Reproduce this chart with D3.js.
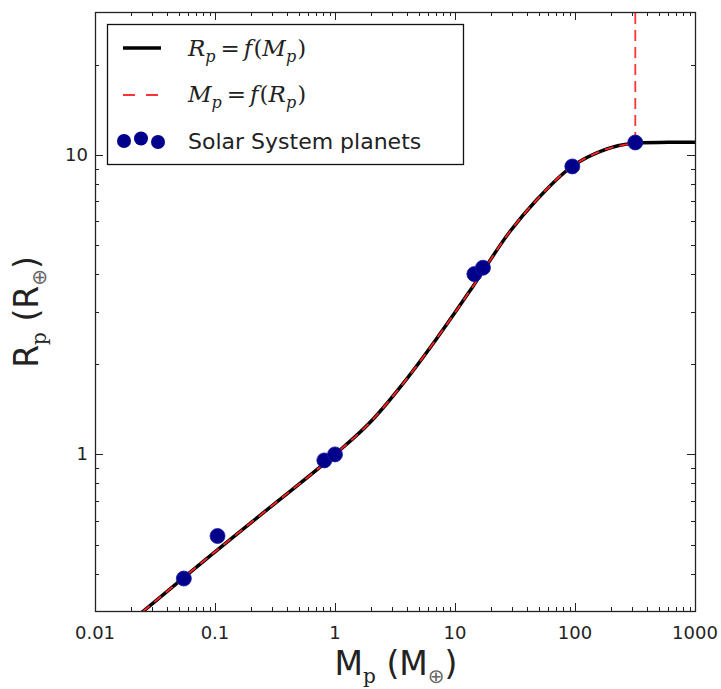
<!DOCTYPE html>
<html>
<head>
<meta charset="utf-8">
<script src="https://cdn.jsdelivr.net/npm/d3@7"></script>
<style>
  body { margin: 0; background: #fff; }
  svg { display: block; }
</style>
</head>
<body>
<svg id="chart" width="721" height="689"></svg>
<script>
// values (mass in Earth masses, radius in Earth radii)
var curveMass   = [0.02, 0.1, 0.3, 1.0, 2.0, 3.8, 7.0, 13.8, 28.7, 48, 94, 161, 316, 600, 1000];
var curveRadius = [0.277, 0.473, 0.675, 1.0, 1.29, 1.75, 2.43, 3.59, 5.55, 7.08, 9.14, 10.26, 10.94, 11.02, 11.03];

// inverse relation: follows the same curve, then goes straight up at the mass limit
var invMass   = [0.02, 0.1, 0.3, 1.0, 2.0, 3.8, 7.0, 13.8, 28.7, 48, 94, 161, 318];
var invRadius = [0.277, 0.473, 0.675, 1.0, 1.29, 1.75, 2.43, 3.59, 5.55, 7.08, 9.14, 10.26, 10.95];
var invTopMass = [318, 318];
var invTopRadius = [10.95, 30];

var planetNames  = ["Mercury", "Venus", "Earth", "Mars", "Jupiter", "Saturn", "Uranus", "Neptune"];
var planetMass   = [0.055, 0.815, 1.0, 0.105, 318, 95, 14.5, 17.1];
var planetRadius = [0.385, 0.955, 1.0, 0.534, 11.0, 9.15, 4.0, 4.2];

var xTicks = [0.01, 0.1, 1, 10, 100, 1000];
var xTickLabels = ["0.01", "0.1", "1", "10", "100", "1000"];
var yTicks = [1, 10];
var yTickLabels = ["1", "10"];

var svg = d3.select("#chart");
var pLeft = 95, pRight = 695, pTop = 12, pBottom = 611;

var x = d3.scaleLog().domain([0.01, 1000]).range([pLeft, pRight]);
var y = d3.scaleLog().domain([0.3, 30]).range([pBottom, pTop]);

svg.append("defs").append("clipPath")
    .attr("id", "plotclip")
  .append("rect")
    .attr("x", pLeft).attr("y", pTop)
    .attr("width", pRight - pLeft).attr("height", pBottom - pTop);

// minor ticks: 2..9 of every decade
function minors(domain) {
  var out = [];
  for (var e = -3; e <= 3; e++) {
    for (var k = 2; k <= 9; k++) {
      var v = k * Math.pow(10, e);
      if (v > domain[0] * 1.0001 && v < domain[1] * 0.9999) out.push(v);
    }
  }
  return out;
}
var xMinor = minors(x.domain());
var yMinor = minors(y.domain());

var majLen = 8, minLen = 4;

var ticks = svg.append("g").attr("class", "ticks")
    .attr("stroke", "#222").attr("stroke-width", 1);

function xTickLines(vals, len) {
  vals.forEach(function(v) {
    var px = Math.round(x(v)) + 0.5;
    ticks.append("line").attr("x1", px).attr("x2", px).attr("y1", pBottom).attr("y2", pBottom - len);
    ticks.append("line").attr("x1", px).attr("x2", px).attr("y1", pTop).attr("y2", pTop + len);
  });
}
function yTickLines(vals, len) {
  vals.forEach(function(v) {
    var py = Math.round(y(v)) + 0.5;
    ticks.append("line").attr("y1", py).attr("y2", py).attr("x1", pLeft).attr("x2", pLeft + len);
    ticks.append("line").attr("y1", py).attr("y2", py).attr("x1", pRight).attr("x2", pRight - len);
  });
}
xTickLines(xTicks, majLen);
xTickLines(xMinor, minLen);
yTickLines(yTicks, majLen);
yTickLines(yMinor, minLen);

// tick labels
svg.append("g").selectAll("text")
    .data(xTicks)
    .enter()
    .append("text")
      .attr("x", function(d) { return x(d); })
      .attr("y", 639)
      .attr("text-anchor", "middle")
      .attr("font-family", "DejaVu Sans")
      .attr("font-size", "18px")
      .attr("fill", "#222")
      .text(function(d, i) { return xTickLabels[i]; });

svg.append("g").selectAll("text")
    .data(yTicks)
    .enter()
    .append("text")
      .attr("x", 88)
      .attr("y", function(d) { return y(d) + 6; })
      .attr("text-anchor", "end")
      .attr("font-family", "DejaVu Sans")
      .attr("font-size", "18px")
      .attr("fill", "#222")
      .text(function(d, i) { return yTickLabels[i]; });

// curves
var plot = svg.append("g").attr("clip-path", "url(#plotclip)");

var line = d3.line()
    .x(function(d) { return x(d[0]); })
    .y(function(d) { return y(d[1]); })
    .curve(d3.curveMonotoneX);

plot.append("path")
    .datum(d3.zip(curveMass, curveRadius))
    .attr("fill", "none")
    .attr("stroke", "#000")
    .attr("stroke-width", 3.5)
    .attr("d", line);

plot.append("path")
    .datum(d3.zip(invMass, invRadius))
    .attr("fill", "none")
    .attr("stroke", "#f22")
    .attr("stroke-width", 1.8)
    .attr("stroke-dasharray", "9,6")
    .attr("d", line);

plot.append("path")
    .datum(d3.zip(invTopMass, invTopRadius))
    .attr("fill", "none")
    .attr("stroke", "#f33")
    .attr("stroke-width", 1.8)
    .attr("stroke-dasharray", "11,6")
    .attr("d", d3.line().x(function(d) { return x(d[0]); }).y(function(d) { return y(d[1]); }));

// planets
plot.append("g").selectAll("circle")
    .data(d3.zip(planetMass, planetRadius))
    .enter()
    .append("circle")
      .attr("cx", function(d) { return x(d[0]); })
      .attr("cy", function(d) { return y(d[1]); })
      .attr("r", 7.5)
      .attr("fill", "#00008b")
      .attr("stroke", "#1a1aa0")
      .attr("stroke-width", 0.8);

// frame
svg.append("rect")
    .attr("x", pLeft + 0.5).attr("y", pTop + 0.5)
    .attr("width", pRight - pLeft).attr("height", pBottom - pTop)
    .attr("fill", "none")
    .attr("stroke", "#222")
    .attr("stroke-width", 1.3);

// legend
var legend = svg.append("g").attr("id", "legend");
legend.append("rect")
    .attr("x", 107.5).attr("y", 24.5)
    .attr("width", 356).attr("height", 140)
    .attr("fill", "#fff")
    .attr("stroke", "#111")
    .attr("stroke-width", 1.3);

legend.append("line")
    .attr("x1", 123).attr("x2", 161).attr("y1", 48).attr("y2", 48)
    .attr("stroke", "#000").attr("stroke-width", 3.5);
legend.append("line")
    .attr("x1", 123).attr("x2", 158).attr("y1", 95).attr("y2", 95)
    .attr("stroke", "#f33").attr("stroke-width", 1.8)
    .attr("stroke-dasharray", "12,11");

var legendDots = [[124, 141], [141, 138.5], [158, 142]];
legend.selectAll("circle")
    .data(legendDots)
    .enter()
    .append("circle")
      .attr("cx", function(d) { return d[0]; })
      .attr("cy", function(d) { return d[1]; })
      .attr("r", 7)
      .attr("fill", "#00008b");

function mathLabel(g, xPos, yPos, a, b) {
  var t = g.append("text")
      .attr("x", xPos).attr("y", yPos)
      .attr("font-family", "DejaVu Serif, Liberation Serif, serif")
      .attr("font-size", "23px")
      .attr("fill", "#222");
  t.append("tspan").attr("font-style", "italic").text(a);
  t.append("tspan").attr("font-style", "italic").attr("font-size", "16px").attr("dy", 6).text("p");
  t.append("tspan").attr("dy", -6).attr("dx", 5).text("=");
  t.append("tspan").attr("font-style", "italic").attr("dx", 4).text("f");
  t.append("tspan").attr("dx", 1).text("(");
  t.append("tspan").attr("font-style", "italic").text(b);
  t.append("tspan").attr("font-style", "italic").attr("font-size", "16px").attr("dy", 6).text("p");
  t.append("tspan").attr("dy", -6).attr("dx", 1).text(")");
}
mathLabel(legend, 188, 56, "R", "M");
mathLabel(legend, 188, 102, "M", "R");

legend.append("text")
    .attr("x", 188).attr("y", 149)
    .attr("font-family", "DejaVu Sans")
    .attr("font-size", "22px")
    .attr("fill", "#222")
    .text("Solar System planets");

// axis labels
var xl = svg.append("text")
    .attr("x", 396).attr("y", 675)
    .attr("text-anchor", "middle")
    .attr("font-family", "DejaVu Sans")
    .attr("font-size", "33px")
    .attr("fill", "#222");
xl.append("tspan").text("M");
xl.append("tspan").attr("font-family", "DejaVu Serif").attr("font-size", "20px").attr("dy", 8).text("p");
xl.append("tspan").attr("dy", -8).text(" (M");
xl.append("tspan").attr("font-size", "20px").attr("dy", 8).attr("fill", "#666").text("\u2295");
xl.append("tspan").attr("dy", -8).text(")");

var yl = svg.append("text")
    .attr("transform", "translate(38, 312) rotate(-90)")
    .attr("text-anchor", "middle")
    .attr("font-family", "DejaVu Sans")
    .attr("font-size", "33px")
    .attr("fill", "#222");
yl.append("tspan").text("R");
yl.append("tspan").attr("font-family", "DejaVu Serif").attr("font-size", "20px").attr("dy", 8).text("p");
yl.append("tspan").attr("dy", -8).text(" (R");
yl.append("tspan").attr("font-size", "20px").attr("dy", 8).attr("fill", "#666").text("\u2295");
yl.append("tspan").attr("dy", -8).text(")");
</script>
</body>
</html>
